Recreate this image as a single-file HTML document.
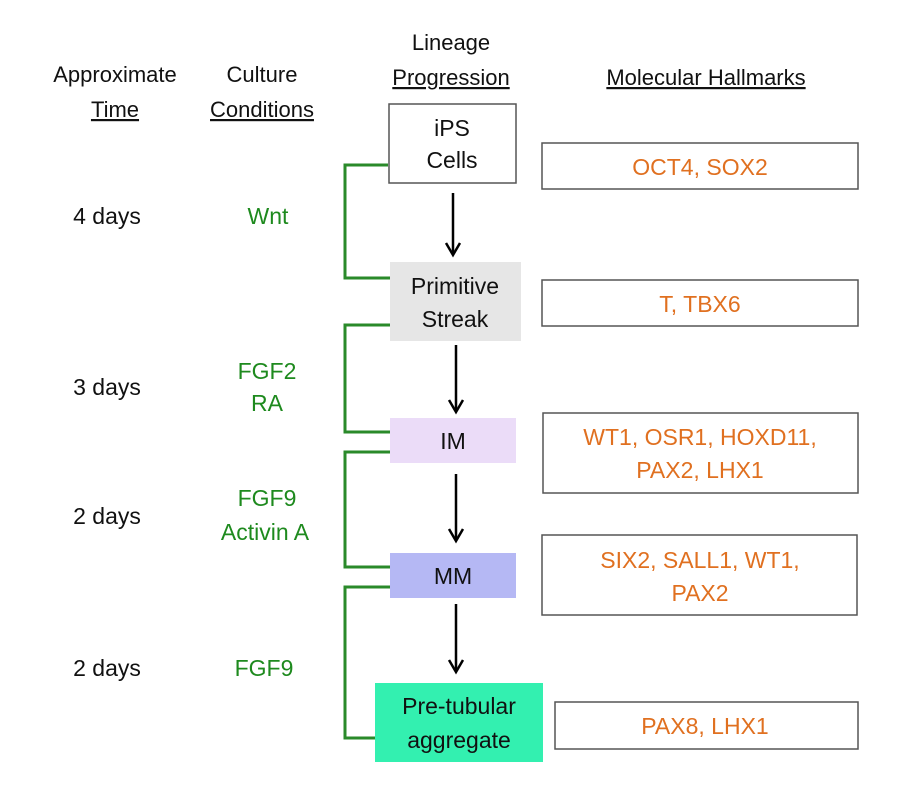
<!DOCTYPE html>
<html><head><meta charset="utf-8"><style>
html,body{margin:0;padding:0;background:#fff;width:916px;height:806px;overflow:hidden}
svg{display:block}
text{font-family:"Liberation Sans",sans-serif}
</style></head><body>
<svg width="916" height="806" viewBox="0 0 916 806" xmlns="http://www.w3.org/2000/svg">
<g font-size="22" fill="#111" text-anchor="middle">
<text x="115" y="82">Approximate</text>
<text x="115" y="117" text-decoration="underline">Time</text>
<text x="262" y="82">Culture</text>
<text x="262" y="117" text-decoration="underline">Conditions</text>
<text x="451" y="50">Lineage</text>
<text x="451" y="85" text-decoration="underline">Progression</text>
<text x="706" y="85" text-decoration="underline">Molecular Hallmarks</text>
</g>
<g font-size="23" fill="#111" text-anchor="middle">
<text x="107" y="224">4 days</text>
<text x="107" y="395">3 days</text>
<text x="107" y="524">2 days</text>
<text x="107" y="676">2 days</text>
</g>
<g font-size="23" fill="#1e8a1e" text-anchor="middle">
<text x="268" y="224">Wnt</text>
<text x="267" y="379">FGF2</text>
<text x="267" y="411">RA</text>
<text x="267" y="506">FGF9</text>
<text x="265" y="540">Activin A</text>
<text x="264" y="676">FGF9</text>
</g>
<g stroke="#2a8a2a" stroke-width="3" fill="none">
<path d="M388,165 H345 V278 H390"/>
<path d="M390,325 H345 V432 H390"/>
<path d="M390,452 H345 V567 H390"/>
<path d="M390,587 H345 V738 H375"/>
</g>
<g stroke="#000" stroke-width="2.5" fill="none">
<line x1="453" y1="193" x2="453" y2="254"/>
<path d="M446,243 L453,255 L460,243"/>
<line x1="456" y1="345" x2="456" y2="411"/>
<path d="M449,400 L456,412 L463,400"/>
<line x1="456" y1="474" x2="456" y2="540"/>
<path d="M449,529 L456,541 L463,529"/>
<line x1="456" y1="604" x2="456" y2="671"/>
<path d="M449,660 L456,672 L463,660"/>
</g>
<rect x="389" y="104" width="127" height="79" fill="#fff" stroke="#555" stroke-width="1.5"/>
<rect x="390" y="262" width="131" height="79" fill="#e6e6e6"/>
<rect x="390" y="418" width="126" height="45" fill="#ebdcf8"/>
<rect x="390" y="553" width="126" height="45" fill="#b5b8f4"/>
<rect x="375" y="683" width="168" height="79" fill="#33f0b0"/>
<g font-size="23" fill="#111" text-anchor="middle">
<text x="452" y="136">iPS</text>
<text x="452" y="168">Cells</text>
<text x="455" y="294">Primitive</text>
<text x="455" y="327">Streak</text>
<text x="453" y="449">IM</text>
<text x="453" y="584">MM</text>
<text x="459" y="714">Pre-tubular</text>
<text x="459" y="748">aggregate</text>
</g>
<g fill="#fff" stroke="#555" stroke-width="1.5">
<rect x="542" y="143" width="316" height="46"/>
<rect x="542" y="280" width="316" height="46"/>
<rect x="543" y="413" width="315" height="80"/>
<rect x="542" y="535" width="315" height="80"/>
<rect x="555" y="702" width="303" height="47"/>
</g>
<g font-size="23" fill="#e07020" text-anchor="middle">
<text x="700" y="175">OCT4, SOX2</text>
<text x="700" y="312">T, TBX6</text>
<text x="700" y="445">WT1, OSR1, HOXD11,</text>
<text x="700" y="478">PAX2, LHX1</text>
<text x="700" y="568">SIX2, SALL1, WT1,</text>
<text x="700" y="601">PAX2</text>
<text x="705" y="734">PAX8, LHX1</text>
</g>
</svg>
</body></html>
